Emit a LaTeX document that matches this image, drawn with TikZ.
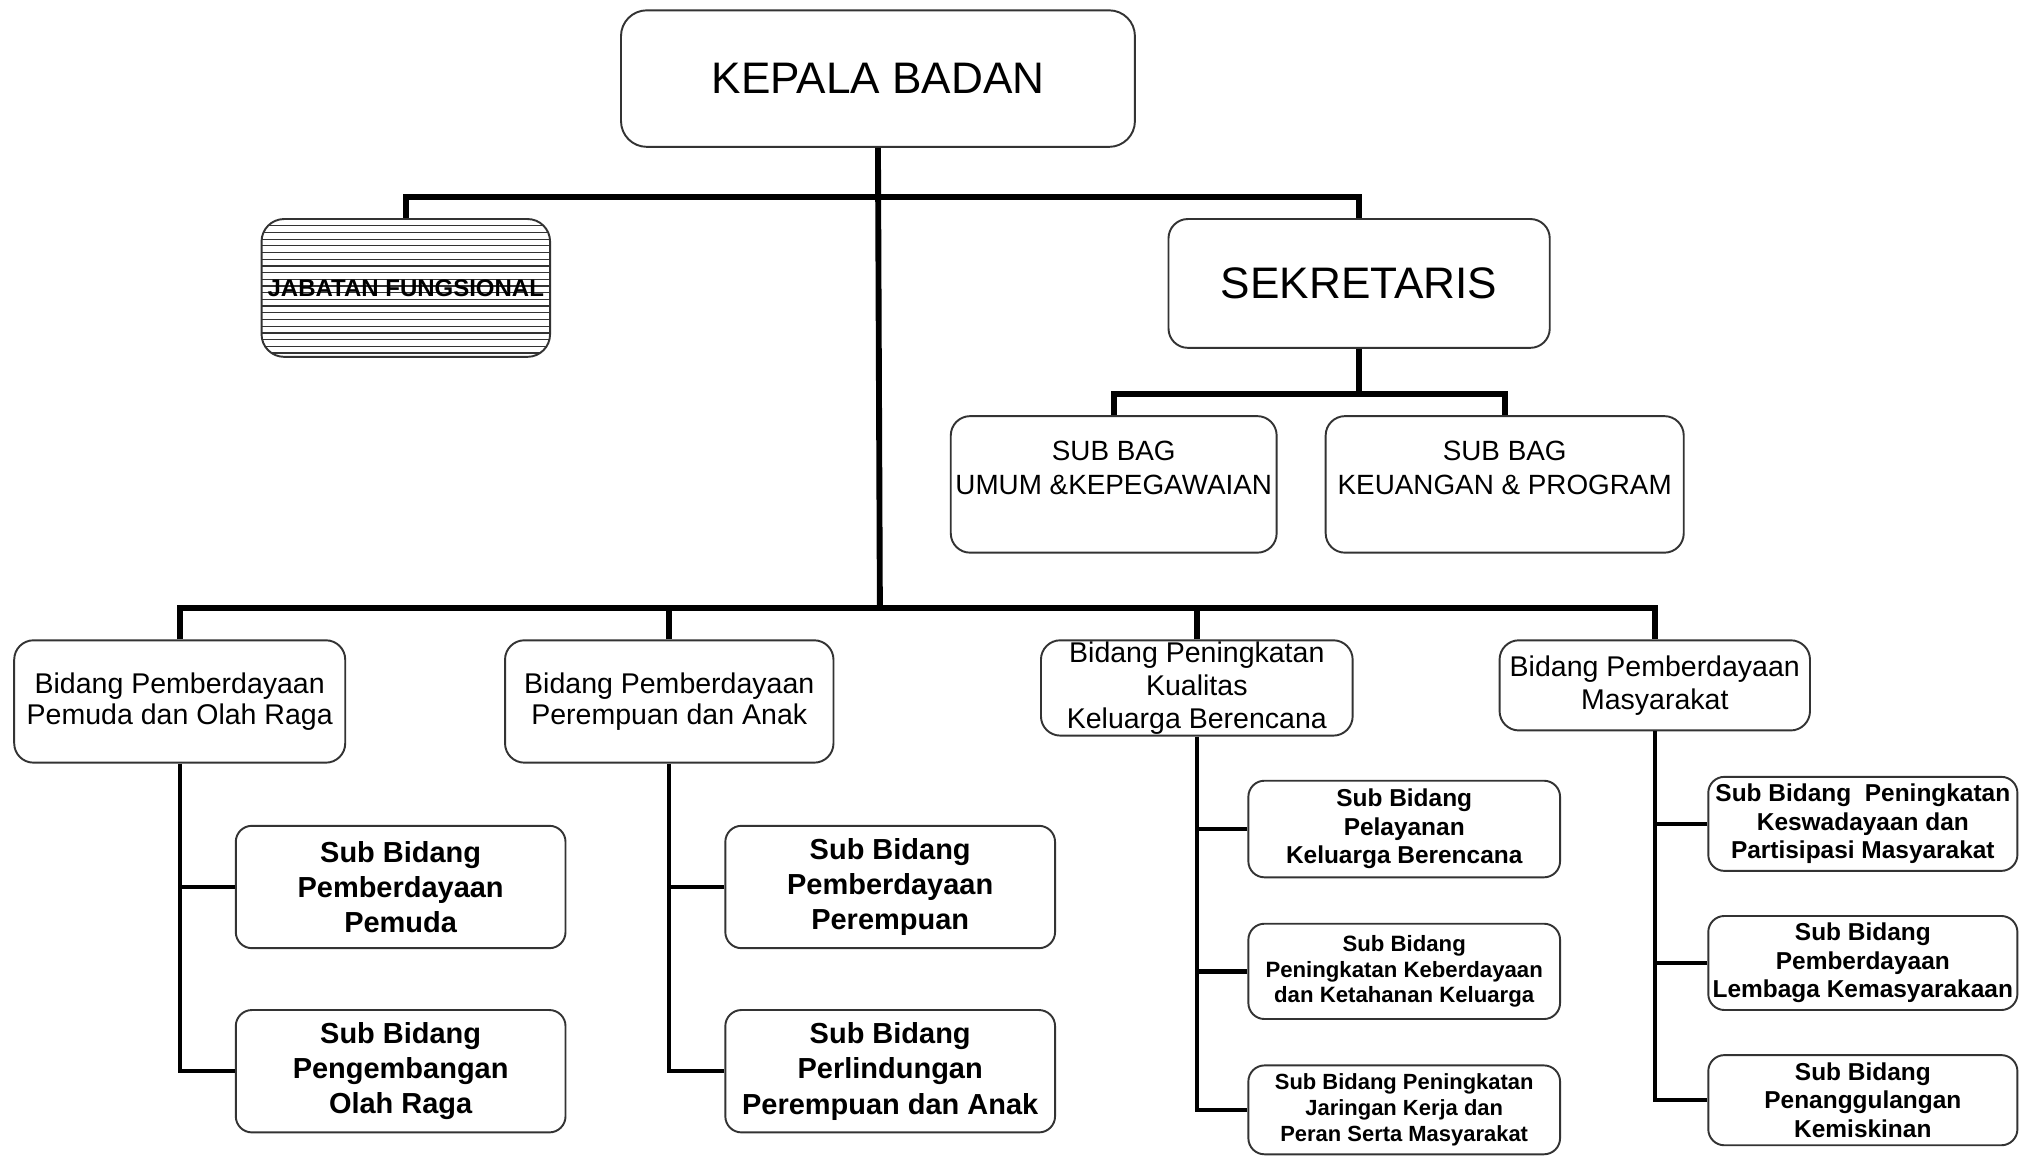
\documentclass[tikz,border=0pt]{standalone}
\usepackage{fontspec}
\setmainfont{Liberation Sans}

\tikzset{
  kotak/.style={draw=black!80, line width=0.85pt, rounded corners=0.3cm, align=center, inner sep=0pt},
  garisan/.style={path picture={
      \foreach \k in {1,...,20}
        \draw[line width=0.55pt] ([yshift=-\k*0.104cm]path picture bounding box.north west)
                                 -- ([yshift=-\k*0.104cm]path picture bounding box.north east);}},
  bidang/.style={kotak, font=\fontsize{12.6}{14}\selectfont},
  subbid/.style={kotak, rounded corners=0.25cm, font=\bfseries\fontsize{12.8}{15.6}\selectfont, minimum width=5.12cm, minimum height=1.9cm},
  subkecil/.style={kotak, rounded corners=0.25cm, font=\bfseries\fontsize{10.8}{12.5}\selectfont},
  conn/.style={line width=2.6pt},
  subconn/.style={line width=1.9pt}
}

\begin{document}
\begin{tikzpicture}[x=0.02cm, y=-0.02cm]
        \useasboundingbox (0,0) rectangle (1568,897);

        % pimpinan
        \node[kotak, rounded corners=0.4cm, minimum width=7.98cm, minimum height=2.12cm,
              font=\fontsize{19.5}{22}\selectfont] (kepala) at (681.5,61) {KEPALA BADAN};
        \node[kotak, rounded corners=0.35cm, minimum width=4.48cm, minimum height=2.14cm, garisan,
              font=\bfseries\fontsize{10.6}{12}\selectfont] (jabatan) at (315,223.5) {JABATAN FUNGSIONAL};
        \node[kotak, minimum width=5.92cm, minimum height=2cm,
              font=\fontsize{19.5}{22}\selectfont] (sekretaris) at (1055,220) {SEKRETARIS};

        % sub bagian
        \node[kotak, minimum width=5.06cm, minimum height=2.12cm, font=\fontsize{12.3}{14.7}\selectfont]
              (umum) at (864.5,376) {SUB BAG\\UMUM \&KEPEGAWAIAN\\[-4.5pt]\strut};
        \node[kotak, minimum width=5.56cm, minimum height=2.12cm, font=\fontsize{12.3}{14.7}\selectfont]
              (keuangan) at (1168,376) {SUB BAG\\KEUANGAN \& PROGRAM\\[-4.5pt]\strut};

        % bidang
        \node[bidang, minimum width=5.14cm, minimum height=1.9cm] (bid1) at (139.5,544.5)
              {Bidang Pemberdayaan\\Pemuda dan Olah Raga};
        \node[bidang, minimum width=5.1cm, minimum height=1.9cm] (bid2) at (519.5,544.5)
              {Bidang Pemberdayaan\\Perempuan dan Anak};
        \node[bidang, minimum width=4.84cm, minimum height=1.48cm, font=\fontsize{12.6}{14.5}\selectfont] (bid3) at (929,534)
              {Bidang Peningkatan\\Kualitas\\Keluarga Berencana};
        \node[bidang, minimum width=4.82cm, minimum height=1.4cm, font=\fontsize{12.6}{14.6}\selectfont] (bid4) at (1284.5,532)
              {Bidang Pemberdayaan\\Masyarakat};

        % sub bidang
        \node[subbid] (sub1a) at (311,688.5) {Sub Bidang\\Pemberdayaan\\Pemuda};
        \node[subbid] (sub1b) at (311,831.5) {Sub Bidang\\Pengembangan\\Olah Raga};
        \node[subbid] (sub2a) at (691,688.5) {Sub Bidang\\Pemberdayaan\\Perempuan};
        \node[subbid] (sub2b) at (691,831.5) {Sub Bidang\\Perlindungan\\Perempuan dan Anak};

        \node[subkecil, minimum width=4.84cm, minimum height=1.5cm] (sub3a) at (1090,643.5)
              {Sub Bidang\\Pelayanan\\Keluarga Berencana};
        \node[subkecil, minimum width=4.84cm, minimum height=1.48cm, font=\bfseries\fontsize{9.8}{11.3}\selectfont] (sub3b) at (1090,754)
              {Sub Bidang\\Peningkatan Keberdayaan\\dan Ketahanan Keluarga};
        \node[subkecil, minimum width=4.84cm, minimum height=1.38cm, font=\bfseries\fontsize{9.7}{11.6}\selectfont] (sub3c) at (1090,861.5)
              {Sub Bidang Peningkatan\\Jaringan Kerja dan\\Peran Serta Masyarakat};

        \node[subkecil, minimum width=4.8cm, minimum height=1.46cm] (sub4a) at (1446,639.5)
              {Sub Bidang\ \ Peningkatan\\Keswadayaan dan\\Partisipasi Masyarakat};
        \node[subkecil, minimum width=4.8cm, minimum height=1.46cm] (sub4b) at (1446,747.5)
              {Sub Bidang\\Pemberdayaan\\Lembaga Kemasyarakaan};
        \node[subkecil, minimum width=4.8cm, minimum height=1.4cm] (sub4c) at (1446,854)
              {Sub Bidang\\Penanggulangan\\Kemiskinan};

        % garis komando
        \coordinate (atas) at (683,153);
        \coordinate (bawah) at (683,472);
        \coordinate (sek) at (1055,306);
        \draw[conn] (kepala.south) -- (bawah);
        \draw[conn] (jabatan.north) |- (atas) -| (sekretaris.north);
        \draw[conn] (sekretaris.south) -- (sek);
        \draw[conn] (umum.north) |- (sek) -| (keuangan.north);
        \draw[conn] (bid1.north) |- (bawah) -| (bid4.north);
        \draw[conn] (bid2.north) -- (bid2.north |- bawah);
        \draw[conn] (bid3.north) -- (bid3.north |- bawah);

        % cabang sub bidang
        \draw[subconn] (bid1.south) |- (sub1b.west);
        \draw[subconn] (sub1a.west) -- (sub1a.west -| bid1.south);
        \draw[subconn] (bid2.south) |- (sub2b.west);
        \draw[subconn] (sub2a.west) -- (sub2a.west -| bid2.south);
        \draw[subconn] (bid3.south) |- (sub3c.west);
        \draw[subconn] (sub3a.west) -- (sub3a.west -| bid3.south);
        \draw[subconn] (sub3b.west) -- (sub3b.west -| bid3.south);
        \draw[subconn] (bid4.south) |- (sub4c.west);
        \draw[subconn] (sub4a.west) -- (sub4a.west -| bid4.south);
        \draw[subconn] (sub4b.west) -- (sub4b.west -| bid4.south);
    \end{tikzpicture}
\end{document}
